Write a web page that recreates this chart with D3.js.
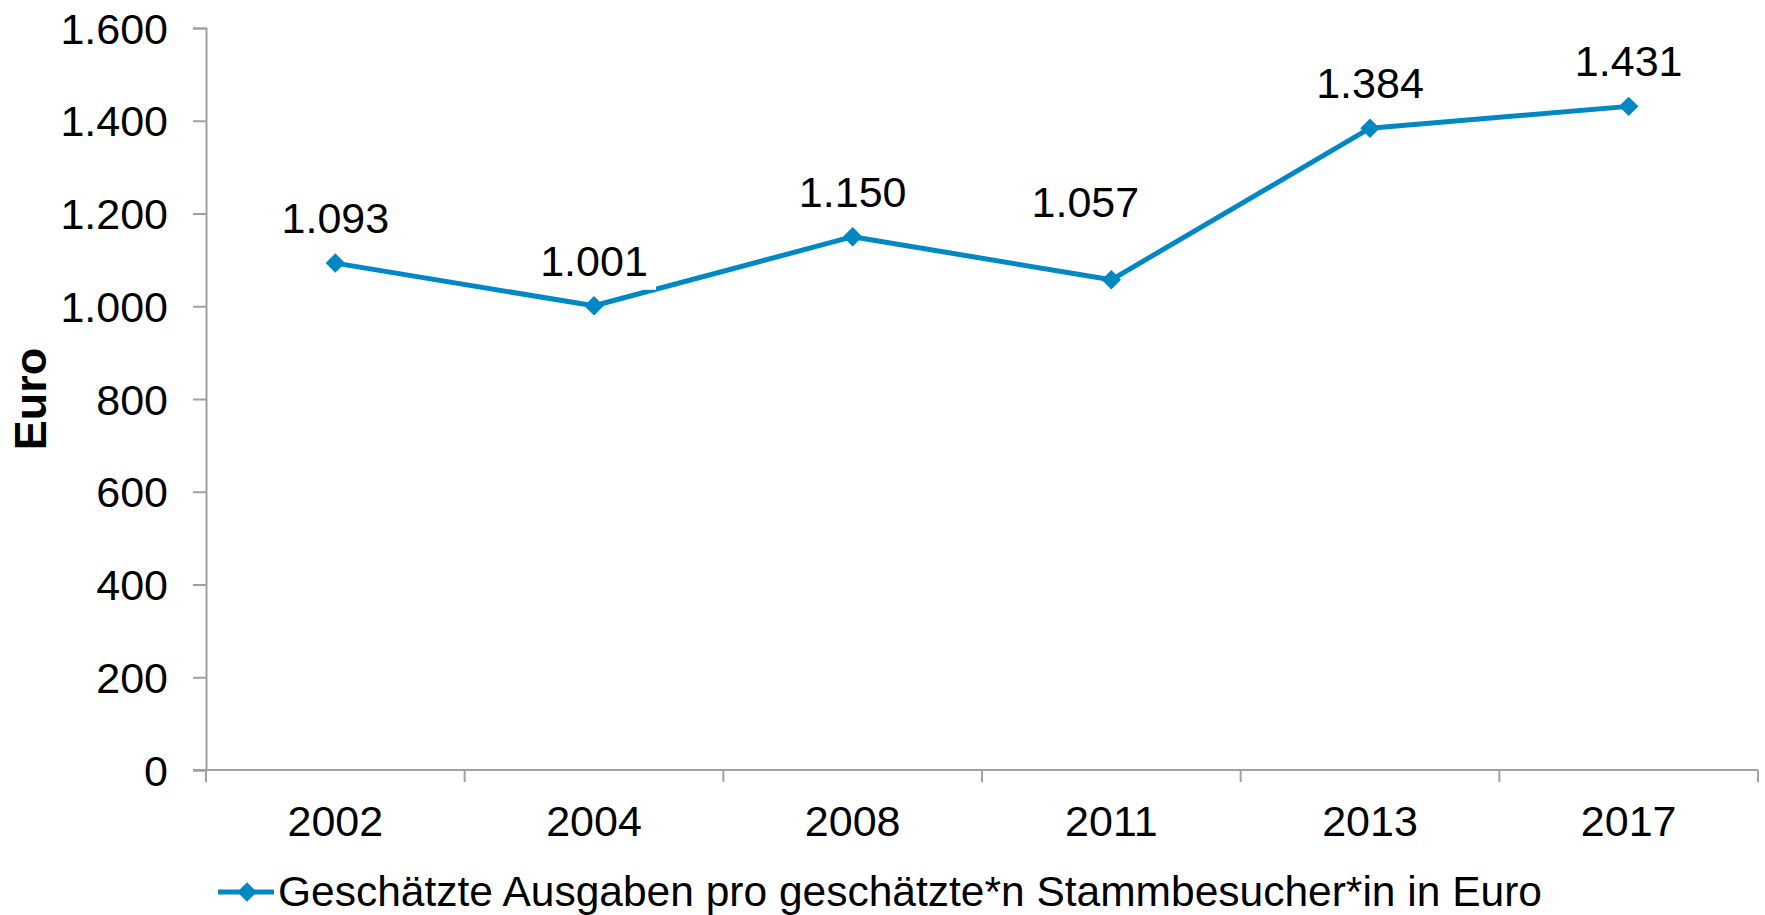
<!DOCTYPE html>
<html>
<head>
<meta charset="utf-8">
<script src="https://cdn.jsdelivr.net/npm/d3@7"></script>
<style>
  body { margin: 0; background: #fff; }
  text { font-family: "Liberation Sans", Arial, sans-serif; fill: #000; }
</style>
</head>
<body>
<div id="chart"></div>
<script>
// data
const years = ["2002", "2004", "2008", "2011", "2013", "2017"];
const values = [1093, 1001, 1150, 1057, 1384, 1431];
const valueLabels = ["1.093", "1.001", "1.150", "1.057", "1.384", "1.431"];
const yTicks = [0, 200, 400, 600, 800, 1000, 1200, 1400, 1600];
const seriesName = "Geschätzte Ausgaben pro geschätzte*n Stammbesucher*in in Euro";
const axisTitle = "Euro";

const W = 1765, H = 915;
const plotL = 206, plotR = 1758, plotT = 28, plotB = 770;
const blue = "#0088c4";
const grey = "#a0a0a0";
const fontSize = 43;

const svg = d3.select("#chart").append("svg")
    .attr("width", W)
    .attr("height", H);

const x = d3.scaleBand().domain(years).range([plotL, plotR]);
const y = d3.scaleLinear().domain([0, 1600]).range([plotB, plotT]);

const fmt = d => d3.format(",")(d).replace(/,/g, ".");

// y axis
const yAxis = svg.append("g")
    .attr("transform", "translate(" + plotL + ",0)")
    .call(d3.axisLeft(y).tickValues(yTicks).tickSize(13).tickPadding(25).tickFormat(fmt));
yAxis.select(".domain").attr("stroke", grey).attr("stroke-width", 2);
yAxis.selectAll(".tick line").attr("stroke", grey).attr("stroke-width", 2);
yAxis.selectAll(".tick text").style("font-size", fontSize + "px").attr("fill", "#000")
    .style("font-family", "Liberation Sans, Arial, sans-serif").attr("dy", "0.35em");

// x axis with ticks between categories
const xAxis = svg.append("g").attr("transform", "translate(0," + plotB + ")");
xAxis.append("line").attr("x1", plotL - 13).attr("x2", plotR).attr("stroke", grey).attr("stroke-width", 2);
const bounds = years.map(d => x(d)).concat([plotR]);
xAxis.selectAll("line.sep").data(bounds).join("line")
    .attr("class", "sep")
    .attr("x1", d => d).attr("x2", d => d)
    .attr("y1", 0).attr("y2", 12)
    .attr("stroke", grey).attr("stroke-width", 2);
xAxis.selectAll("text").data(years).join("text")
    .attr("x", d => x(d) + x.bandwidth() / 2)
    .attr("y", 66)
    .attr("text-anchor", "middle")
    .style("font-size", fontSize + "px")
    .text(d => d);

// axis title
svg.append("text")
    .attr("transform", "translate(46,399) rotate(-90)")
    .attr("text-anchor", "middle")
    .style("font-size", "45px")
    .style("font-weight", "bold")
    .text(axisTitle);

// line
const cx = (d, i) => x(years[i]) + x.bandwidth() / 2;
const line = d3.line().x((d, i) => cx(d, i)).y(d => y(d));
svg.append("path")
    .datum(values)
    .attr("d", line)
    .attr("fill", "none")
    .attr("stroke", blue)
    .attr("stroke-width", 5)
    .attr("stroke-linejoin", "round");

const diamond = d3.symbol().type(d3.symbolSquare).size(190);
svg.selectAll("path.pt").data(values).join("path")
    .attr("class", "pt")
    .attr("d", diamond)
    .attr("transform", (d, i) => "translate(" + cx(d, i) + "," + y(d) + ") rotate(45)")
    .attr("fill", blue);

// data labels (Excel nudged the 2011 one up and left)
const labelShiftX = [0, 0, 0, -26, 0, 0];
const labelShiftY = [0, 0, 0, -33, 0, 0];
const lbl = svg.selectAll("g.lbl").data(values).join("g")
    .attr("class", "lbl")
    .attr("transform", (d, i) => "translate(" + (cx(d, i) + labelShiftX[i]) + "," + (y(d) - 30 + labelShiftY[i]) + ")");
lbl.append("rect")
    .attr("x", -62).attr("width", 124)
    .attr("y", -36).attr("height", 50)
    .attr("fill", "#fff");
lbl.append("text")
    .attr("text-anchor", "middle")
    .style("font-size", fontSize + "px")
    .text((d, i) => valueLabels[i]);

// legend
const lg = svg.append("g").attr("transform", "translate(218,892)");
lg.append("line").attr("x1", 0).attr("x2", 56).attr("stroke", blue).attr("stroke-width", 5);
lg.append("path").attr("d", diamond).attr("transform", "translate(29,0) rotate(45)").attr("fill", blue);
lg.append("text").attr("x", 60).attr("y", 14).style("font-size", "42.5px").text(seriesName);
</script>
</body>
</html>
